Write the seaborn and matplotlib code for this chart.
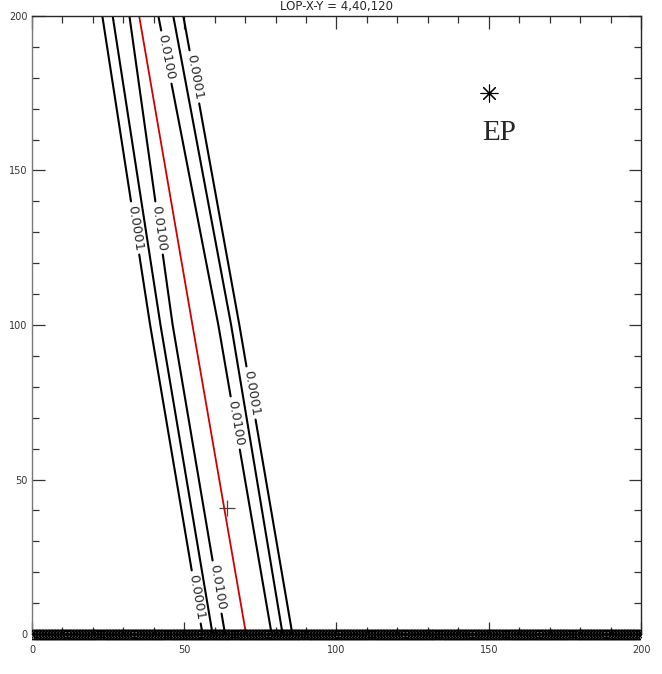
import numpy as np
import pandas as pd
import seaborn as sns
import matplotlib.pyplot as plt
from matplotlib.patches import Rectangle

# Valori: x delle linee a y = 0, 100, 200
y_knots = [0, 100, 200]
left_lines = {
    "0.0001": [56.0, 38.8, 23.1],
    "0.0010": [59.3, 42.2, 26.5],
    "0.0100": [63.4, 46.2, 32.0],
}
right_lines = {
    "0.0100": [78.7, 61.2, 41.5],
    "0.0010": [82.3, 65.4, 46.4],
    "0.0001": [85.5, 68.1, 49.7],
}
center_line = [70.3, 52.7, 35.2]

# Etichette dei contorni (lato, livello, y del centro)
label_side = ["L", "L", "L", "L", "R", "R", "R", "R"]
label_level = ["0.0001", "0.0100", "0.0001", "0.0100",
               "0.0100", "0.0001", "0.0100", "0.0001"]
label_y = [131.4, 131.4, 12.0, 15.2, 186.7, 180.3, 68.3, 78.0]

best_x, best_y = 64.0, 40.8
ep_x, ep_y = 150, 175
baseline_x = np.arange(0, 201)  # griglia lungo y = 0

title = "LOP-X-Y = 4,40,120"

sns.set_style("ticks")
plt.rcParams["font.family"] = ["DejaVu Sans"]

fig, ax = plt.subplots(figsize=(6.62, 6.74), dpi=100)
fig.subplots_adjust(left=0.0483, right=0.9683, top=0.9763, bottom=0.0593)
ax.set_xlim(0, 200)
ax.set_ylim(0, 200)

half_gap = 8.6

# Costruisce i segmenti delle linee, interrotti dove c'e' l'etichetta
rows = []
seg = 0
for side, lines in (("L", left_lines), ("R", right_lines)):
    for level, xs in lines.items():
        gaps = sorted(y for s, l, y in zip(label_side, label_level, label_y)
                      if s == side and l == level)
        bounds = [0.0]
        for g in gaps:
            bounds += [g - half_gap, g + half_gap]
        bounds.append(200.0)
        for y0, y1 in zip(bounds[::2], bounds[1::2]):
            y0, y1 = max(y0, 0), min(y1, 200)
            if y1 <= y0:
                continue
            ys = [y0] + [k for k in y_knots if y0 < k < y1] + [y1]
            for yy in ys:
                rows.append({"x": np.interp(yy, y_knots, xs), "y": yy, "seg": seg})
            seg += 1
contours = pd.DataFrame(rows)

sns.lineplot(data=contours, x="x", y="y", units="seg", estimator=None,
             sort=False, color="black", lw=1.5, ax=ax)
sns.lineplot(x=center_line, y=y_knots, estimator=None, sort=False,
             color="#d00000", lw=1.3, ax=ax)

# Etichette ruotate lungo le linee
for side, level, yy in zip(label_side, label_level, label_y):
    xs = (left_lines if side == "L" else right_lines)[level]
    xa, xb = np.interp(yy + 5, y_knots, xs), np.interp(yy - 5, y_knots, xs)
    pa = ax.transData.transform((xa, yy + 5))
    pb = ax.transData.transform((xb, yy - 5))
    ang = np.degrees(np.arctan2(pb[1] - pa[1], pb[0] - pa[0]))
    ax.text(np.interp(yy, y_knots, xs), yy, level, rotation=ang,
            rotation_mode="anchor", ha="center", va="center", fontsize=9.5)

# Banda di simboli lungo y = 0 (tagliata solo ai lati)
n_before = len(ax.collections)
sns.scatterplot(x=baseline_x, y=np.zeros(len(baseline_x)), marker="s",
                s=42, facecolors="none", edgecolor="black", linewidth=1.0,
                zorder=5, ax=ax)
sns.scatterplot(x=baseline_x, y=np.zeros(len(baseline_x)), marker="x",
                s=42, color="black", linewidth=0.9, zorder=5, ax=ax)
clip = Rectangle((0, -0.05), 1, 1.1, transform=ax.transAxes)
for coll in ax.collections[n_before:]:
    coll.set_clip_path(clip)

sns.scatterplot(x=[best_x], y=[best_y], marker="+", s=120, color="#444444",
                linewidth=0.9, ax=ax)
sns.scatterplot(x=[ep_x], y=[ep_y], marker=(8, 2, 0), s=150, color="black",
                linewidth=0.8, ax=ax)
ax.text(148, 160, "EP", fontsize=21, family=["Liberation Serif"],
        ha="left", va="baseline")

ax.set_xticks([0, 50, 100, 150, 200])
ax.set_yticks([0, 50, 100, 150, 200])
ax.set_xticks(np.arange(0, 201, 10), minor=True)
ax.set_yticks(np.arange(0, 201, 10), minor=True)
ax.tick_params(which="both", direction="in", top=True, right=True,
               labelsize=7, colors="#333333", width=0.9)
ax.tick_params(which="major", length=9)
ax.tick_params(which="minor", length=5)
ax.tick_params(axis="x", pad=8)
ax.tick_params(axis="y", pad=3)
for sp in ax.spines.values():
    sp.set_linewidth(1.0)
ax.spines["left"].set_color("#777777")
ax.set_xlabel("")
ax.set_ylabel("")
ax.set_title(title, fontsize=8.5, pad=4)

fig.savefig("out.png", dpi=100)
